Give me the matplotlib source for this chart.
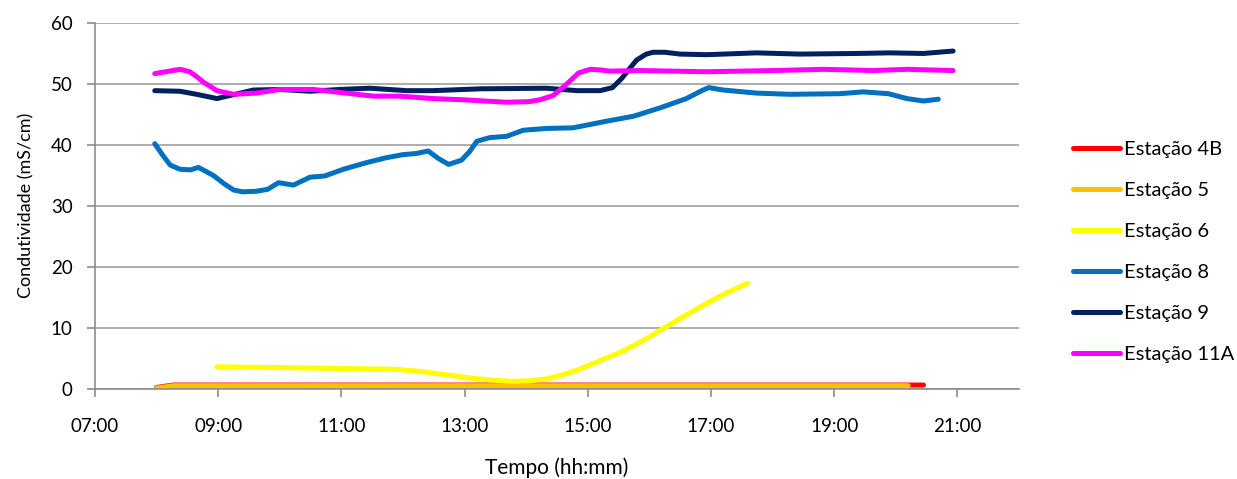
import matplotlib
matplotlib.use("Agg")
import matplotlib.pyplot as plt

plt.rcParams.update({
    "font.family": ["Lato", "DejaVu Sans"],
    "font.size": 13.5,
})

# hours of day (decimal) and conductivity (mS/cm) per station
t_4b = [8.0, 8.27, 10.0, 12.0, 14.0, 16.0, 18.0, 20.0, 20.45]
v_4b = [0.2, 0.6, 0.6, 0.6, 0.6, 0.6, 0.6, 0.6, 0.6]

t_5 = [8.0, 8.27, 10.0, 12.0, 14.0, 16.0, 18.0, 20.2]
v_5 = [0.1, 0.5, 0.5, 0.5, 0.5, 0.5, 0.5, 0.5]

t_6 = [8.98, 10.44, 11.84, 12.33, 12.6, 12.92, 13.14, 13.45, 13.79, 14.05,
       14.33, 14.6, 14.87, 15.2, 15.58, 15.95, 16.28, 16.6, 16.93, 17.25,
       17.6]
v_6 = [3.6, 3.4, 3.2, 2.8, 2.4, 2.0, 1.7, 1.4, 1.2, 1.3,
       1.6, 2.3, 3.2, 4.6, 6.2, 8.2, 10.2, 12.1, 14.0, 15.7,
       17.3]

t_8 = [7.97, 8.1, 8.22, 8.38, 8.55, 8.68, 8.92, 9.1, 9.25, 9.4,
       9.62, 9.8, 9.98, 10.22, 10.49, 10.73, 11.03, 11.41, 11.73, 12.0,
       12.22, 12.41, 12.57, 12.74, 12.95, 13.08, 13.2, 13.41, 13.68, 13.95,
       14.33, 14.76, 15.31, 15.74, 16.18, 16.6, 16.85, 16.96, 17.2, 17.74,
       18.28, 19.09, 19.47, 19.88, 20.18, 20.45, 20.69]
v_8 = [40.2, 38.3, 36.7, 36.0, 35.9, 36.3, 35.0, 33.6, 32.6, 32.3,
       32.4, 32.7, 33.8, 33.4, 34.7, 34.9, 36.0, 37.1, 37.9, 38.4,
       38.6, 39.0, 37.8, 36.8, 37.5, 38.9, 40.6, 41.2, 41.4, 42.4,
       42.7, 42.8, 43.9, 44.7, 46.1, 47.6, 48.9, 49.4, 49.0, 48.5,
       48.3, 48.4, 48.7, 48.4, 47.6, 47.2, 47.5]

t_9 = [7.97, 8.38, 8.65, 8.98, 9.19, 9.57, 10.0, 10.49, 10.98, 11.46,
       12.06, 12.49, 13.25, 14.33, 14.82, 15.2, 15.4, 15.55, 15.79, 15.95,
       16.06, 16.25, 16.5, 16.93, 17.74, 18.44, 19.36, 19.9, 20.45, 20.93]
v_9 = [48.9, 48.8, 48.3, 47.6, 48.1, 49.0, 49.1, 48.8, 49.1, 49.3,
       48.9, 48.9, 49.2, 49.3, 48.9, 48.9, 49.4, 50.9, 53.9, 54.9,
       55.2, 55.2, 54.9, 54.8, 55.1, 54.9, 55.0, 55.1, 55.0, 55.4]

t_11a = [7.97, 8.38, 8.54, 8.65, 8.76, 8.98, 9.25, 9.62, 10.0, 10.54,
         10.98, 11.52, 11.95, 12.49, 12.98, 13.68, 14.05, 14.22, 14.44, 14.66,
         14.85, 15.04, 15.2, 15.36, 15.85, 16.93, 18.01, 18.83, 19.64, 20.18,
         20.93]
v_11a = [51.7, 52.4, 52.0, 51.2, 50.3, 48.9, 48.3, 48.5, 49.1, 49.1,
         48.6, 48.0, 48.0, 47.6, 47.4, 47.0, 47.1, 47.4, 48.1, 50.0,
         51.8, 52.4, 52.3, 52.1, 52.2, 52.0, 52.2, 52.4, 52.2, 52.4,
         52.2]

series = [
    ("Estação 4B", t_4b, v_4b, "#FF0000"),
    ("Estação 5", t_5, v_5, "#FFC000"),
    ("Estação 6", t_6, v_6, "#FFFF00"),
    ("Estação 8", t_8, v_8, "#0070C0"),
    ("Estação 9", t_9, v_9, "#002060"),
    ("Estação 11A", t_11a, v_11a, "#FF00FF"),
]

hour_ticks = [7, 9, 11, 13, 15, 17, 19, 21]
hour_labels = [f"{h:02d}:00" for h in hour_ticks]

fig = plt.figure(figsize=(12.37, 4.79), dpi=100)
ax = fig.add_axes([95 / 1237, 1 - 388.7 / 479, (1019 - 95) / 1237, (388.7 - 23) / 479])

for label, t, v, c in series:
    ax.plot(t, v, color=c, lw=3.6, label=label,
            solid_joinstyle="round", solid_capstyle="round")

ax.set_xlim(7, 22)
ax.set_ylim(0, 60)
ax.set_xticks(hour_ticks)
ax.set_xticklabels(hour_labels)
ax.set_yticks(range(0, 61, 10))
ax.yaxis.grid(True, color="#A0A0A0", lw=1.2)
ax.set_axisbelow(True)
for s in ("top", "right"):
    ax.spines[s].set_visible(False)
for s in ("left", "bottom"):
    ax.spines[s].set_color("#8C8C8C")
    ax.spines[s].set_linewidth(1.2)
ax.tick_params(axis="both", color="#8C8C8C", width=1.2, length=6)
ax.tick_params(axis="x", pad=15)
ax.tick_params(axis="y", pad=10)

ax.set_xlabel("Tempo (hh:mm)", fontsize=15, labelpad=16)
ax.set_ylabel("Condutividade (mS/cm)", fontsize=13, labelpad=12)

fig.legend(loc="center left", bbox_to_anchor=(1073 / 1237, 1 - 252 / 479),
           frameon=False, fontsize=14.5, handlelength=2.35, handletextpad=0.2,
           labelspacing=1.18, borderpad=0, borderaxespad=0)

fig.savefig("out.png", dpi=100)
